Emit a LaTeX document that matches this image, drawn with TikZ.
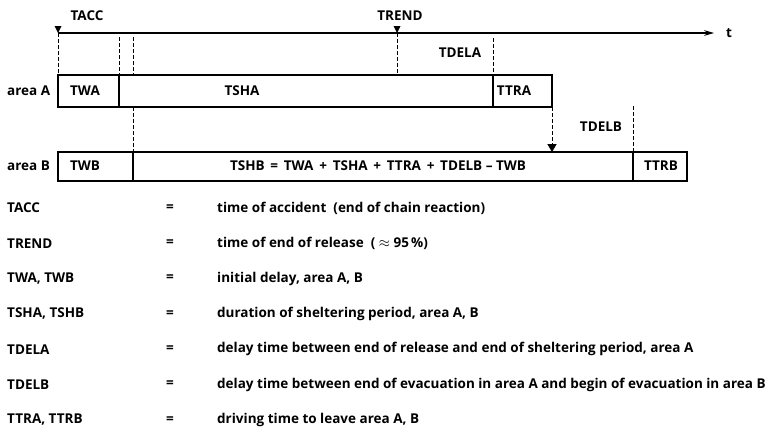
\documentclass[tikz,border=0pt]{standalone}
\usepackage{fontspec}
\setmainfont{Open Sans}
\usetikzlibrary{arrows.meta}
\tikzset{>={Stealth[length=3.5mm,width=2mm]}}
\tikzset{
  lbl/.style={font=\bfseries\fontsize{13.5}{15}\selectfont, inner sep=0pt},
  bar/.style={draw, line width=1.3pt},
  guide/.style={dash pattern=on 3.5pt off 2.5pt, line width=1pt},
  tri/.style={fill=black}
}

\begin{document}
\begin{tikzpicture}[x=1pt,y=-1pt]
  \useasboundingbox (0,0) rectangle (775,431);
  % Define the rows of the two bars
  \pgfmathsetmacro{\axisY}{33}
  \pgfmathsetmacro{\topA}{75}
  \pgfmathsetmacro{\botA}{107}
  \pgfmathsetmacro{\topB}{152}
  \pgfmathsetmacro{\botB}{181}

  % Points on the time axis
  \coordinate (tacc) at (58,\axisY);
  \coordinate (trend) at (397,\axisY);
  \coordinate (tend) at (714,\axisY);

  % Time axis
  \draw[->, line width=1.3pt] (tacc) -- (tend);
  \node[lbl, anchor=west] (t) at (726,\axisY) {t};
  \node[lbl] (lacc) at (87,16) {TACC};
  \node[lbl] (lrend) at (400,16) {TREND};
  \fill[tri] (tacc) -- ++(-3.5,-7) -- ++(7,0) -- cycle;
  \fill[tri] (trend) -- ++(-3.5,-7) -- ++(7,0) -- cycle;

  % Corners and dividers of area A
  \coordinate (a0) at (58,\topA);  \coordinate (a0b) at (58,\botA);
  \coordinate (a1) at (119,\topA); \coordinate (a1b) at (119,\botA);
  \coordinate (a2) at (493,\topA); \coordinate (a2b) at (493,\botA);
  \coordinate (a3) at (552,\topA); \coordinate (a3b) at (552,\botA);
  % Corners and dividers of area B
  \coordinate (b0) at (58,\topB);  \coordinate (b0b) at (58,\botB);
  \coordinate (b1) at (133,\topB); \coordinate (b1b) at (133,\botB);
  \coordinate (b2) at (633,\topB); \coordinate (b2b) at (633,\botB);
  \coordinate (b3) at (687,\topB); \coordinate (b3b) at (687,\botB);
  \coordinate (bm) at (552,\topB);

  \draw[bar] (a0) rectangle (a3b);
  \draw[bar] (a1) -- (a1b);
  \draw[bar] (a2) -- (a2b);
  \draw[bar] (b0) rectangle (b3b);
  \draw[bar] (b1) -- (b1b);
  \draw[bar] (b2) -- (b2b);

  % Guide lines
  \coordinate (g1) at (119,37);
  \coordinate (g2) at (133,37);
  \coordinate (g2m) at (133,\botA);
  \coordinate (g3) at (493,38);
  \coordinate (g4) at (633,106);
  \draw[guide] (tacc) -- (a0);
  \draw[guide] (trend) -- (397,\topA);
  \draw[guide] (g1) -- (a1);
  \draw[guide] (g2) -- (133,\topA);
  \draw[guide] (g2m) -- (b1);
  \draw[guide] (g3) -- (a2);
  \draw[guide] (g4) -- (b2);
  \draw[guide, -{Triangle[length=2.8mm,width=3.2mm]}] (a3b) -- (bm);

  % Labels of the bars
  \node[lbl, anchor=west] (areaA) at (7,91) {area A};
  \node[lbl, anchor=west] (areaB) at (7,166) {area B};
  \node[lbl] (twa) at (85,91) {TWA};
  \node[lbl] (tsha) at (242,91) {TSHA};
  \node[lbl] (ttra) at (514,91) {TTRA};
  \node[lbl] (tdela) at (460,53) {TDELA};
  \node[lbl] (twb) at (85,166) {TWB};
  \node[lbl] (tshb) at (378,166) {TSHB\ \,=\ \,TWA\ \,+\ \,TSHA\ \,+\ \,TTRA\ \,+\ \,TDELB -- TWB};
  \node[lbl] (ttrb) at (661,166) {TTRB};
  \node[lbl] (tdelb) at (601,127) {TDELB};

  % Legend
  \foreach \name/\desc [count=\i] in {
    TACC/{time of accident\ \ (end of chain reaction)},
    TREND/{time of end of release\ \ ( $\approx$ 95\,\%)},
    {TWA, TWB}/{initial delay, area A, B},
    {TSHA, TSHB}/{duration of sheltering period, area A, B},
    TDELA/{delay time between end of release and end of sheltering period, area A},
    TDELB/{delay time between end of evacuation in area A and begin of evacuation in area B},
    {TTRA, TTRB}/{driving time to leave area A, B}} {
    \node[lbl, anchor=west] (key\i) at (7, 208+35.3*\i-35.3) {\name};
    \node[lbl] (eq\i) at (170, 208+35.3*\i-35.3) {=};
    \node[lbl, anchor=west] (desc\i) at (217, 208+35.3*\i-35.3) {\desc}; }
\end{tikzpicture}
\end{document}
